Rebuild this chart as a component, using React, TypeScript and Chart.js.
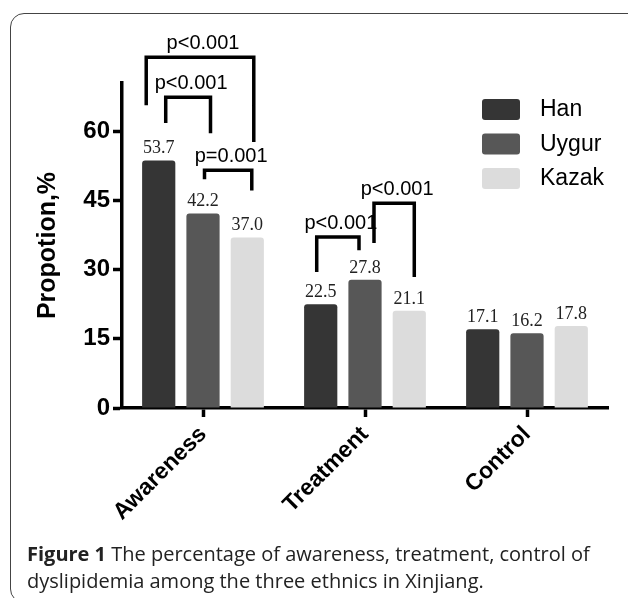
import React, { useEffect, useRef } from "react";
import { Chart, registerables } from "chart.js";

Chart.register(...registerables);

// ---- data ----
const categories = ["Awareness", "Treatment", "Control"];
const seriesNames = ["Han", "Uygur", "Kazak"];
const hanValues = [53.7, 22.5, 17.1];
const uygurValues = [42.2, 27.8, 16.2];
const kazakValues = [37.0, 21.1, 17.8];
const yTickValues = [0, 15, 30, 45, 60];
const yMax = 70.5;
const seriesColors = ["#353535", "#575757", "#dcdcdc"];

// significance brackets: category index, bar indices, label, heights in data units
const bracketCats = [0, 0, 0, 1, 1];
const bracketFrom = [0, 0, 1, 0, 1];
const bracketTo = [2, 1, 2, 1, 2];
const bracketLabels = ["p<0.001", "p<0.001", "p=0.001", "p<0.001", "p<0.001"];
const bracketTop = [76.1, 67.4, 51.6, 37.1, 44.4];
const bracketFromEnd = [65.7, 61.8, 49.6, 29.5, 35.8];
const bracketToEnd = [57.7, 59.6, 47.2, 34.2, 28.4];
const bracketDxFrom = [-12.5, 7, 1.5, -4, 9];
const bracketDxTo = [6.5, 7.5, 4.5, -6, 5];

const SANS = '"Liberation Sans", Arial, sans-serif';
const SERIF = '"Liberation Serif", "Times New Roman", serif';

const overlayPlugin = {
  id: "overlay",
  afterDatasetsDraw(chart: any) {
    const ctx = chart.ctx;
    const yScale = chart.scales.y;
    ctx.save();
    // value labels
    ctx.font = `18px ${SERIF}`;
    ctx.fillStyle = "#222";
    ctx.textAlign = "center";
    ctx.textBaseline = "alphabetic";
    chart.data.datasets.forEach((ds: any, di: number) => {
      const meta = chart.getDatasetMeta(di);
      meta.data.forEach((bar: any, i: number) => {
        ctx.fillText(Number(ds.data[i]).toFixed(1), bar.x, bar.y - 7);
      });
    });

    // brackets
    ctx.strokeStyle = "#000";
    ctx.lineWidth = 3.5;
    ctx.lineJoin = "miter";
    ctx.lineCap = "butt";
    ctx.font = `20px ${SANS}`;
    ctx.fillStyle = "#000";
    for (let k = 0; k < bracketLabels.length; k++) {
      const c = bracketCats[k];
      const x1 = chart.getDatasetMeta(bracketFrom[k]).data[c].x + bracketDxFrom[k];
      const x2 = chart.getDatasetMeta(bracketTo[k]).data[c].x + bracketDxTo[k];
      const yt = yScale.getPixelForValue(bracketTop[k]);
      const y1 = yScale.getPixelForValue(bracketFromEnd[k]);
      const y2 = yScale.getPixelForValue(bracketToEnd[k]);
      ctx.beginPath();
      ctx.moveTo(x1, y1);
      ctx.lineTo(x1, yt);
      ctx.lineTo(x2, yt);
      ctx.lineTo(x2, y2);
      ctx.stroke();
      ctx.fillText(bracketLabels[k], (x1 + x2) / 2 + 3, yt - 8);
    }

    // legend
    const ca = chart.chartArea;
    const bx = ca.right - 126;
    const by = ca.top + 16;
    ctx.font = `23px ${SANS}`;
    ctx.textAlign = "left";
    ctx.textBaseline = "middle";
    chart.data.datasets.forEach((ds: any, di: number) => {
      const y = by + di * 34.5;
      ctx.fillStyle = ds.backgroundColor;
      ctx.beginPath();
      (ctx as any).roundRect(bx, y, 38, 21, 3);
      ctx.fill();
      ctx.fillStyle = "#000";
      ctx.fillText(ds.label, bx + 58, y + 11);
    });
    ctx.restore();
  },
};

export default function App() {
  const canvasRef = useRef<HTMLCanvasElement | null>(null);

  useEffect(() => {
    if (!canvasRef.current) return;
    const seriesValues = [hanValues, uygurValues, kazakValues];
    const chart = new Chart(canvasRef.current, {
      type: "bar",
      data: {
        labels: categories,
        datasets: seriesNames.map((name, i) => ({
          label: name,
          data: seriesValues[i],
          backgroundColor: seriesColors[i],
          borderRadius: 3,
          categoryPercentage: 0.82,
          barPercentage: 0.75,
        })),
      },
      options: {
        responsive: false,
        animation: false,
        layout: { padding: { top: 83, right: 20, bottom: 40, left: 0 } },
        plugins: {
          legend: { display: false },
          tooltip: { enabled: false },
        },
        scales: {
          x: {
            offset: true,
            grid: {
              display: true,
              drawOnChartArea: false,
              offset: false,
              tickLength: 9,
              tickWidth: 3.5,
              tickColor: "#000",
              color: "#000",
            },
            border: { display: true, width: 3.5, color: "#000" },
            ticks: {
              font: { family: SANS, size: 23, weight: "bold" },
              color: "#000",
              maxRotation: 45,
              minRotation: 45,
              padding: 4,
              autoSkip: false,
            },
            afterFit: (s: any) => {
              s.height = 150;
            },
          },
          y: {
            min: 0,
            max: yMax,
            afterBuildTicks: (s: any) => {
              s.ticks = yTickValues.map((v) => ({ value: v }));
            },
            grid: {
              drawOnChartArea: false,
              tickLength: 9,
              tickWidth: 3.5,
              tickColor: "#000",
              color: "#000",
            },
            border: { display: true, width: 3.5, color: "#000" },
            ticks: {
              font: { family: SANS, size: 24, weight: "bold" },
              color: "#000",
              padding: 3,
            },
            title: {
              display: true,
              text: "Propotion,%",
              font: { family: SANS, size: 25, weight: "bold" },
              color: "#000",
              padding: { top: 33, bottom: 0 },
            },
            afterFit: (s: any) => {
              s.width = 122;
            },
          },
        },
      } as any,
      plugins: [overlayPlugin],
    });
    return () => chart.destroy();
  }, []);

  return (
    <div
      style={{
        position: "fixed",
        left: 0,
        top: 0,
        width: 628,
        height: 598,
        overflow: "hidden",
        background: "#fff",
      }}
    >
      <div
        style={{
          position: "absolute",
          left: 10,
          top: 13,
          width: 640,
          height: 588,
          border: "1.5px solid #444",
          borderRadius: 14,
        }}
      />
      <canvas
        ref={canvasRef}
        width={628}
        height={598}
        style={{ position: "absolute", left: 0, top: 0 }}
      />
      <div
        style={{
          position: "absolute",
          left: 27,
          top: 540,
          width: 610,
          fontFamily: '"Open Sans", sans-serif',
          fontSize: 20,
          lineHeight: "27px",
          color: "#222",
          whiteSpace: "nowrap",
        }}
      >
        <b>Figure 1</b> The percentage of awareness, treatment, control of
        <br />
        dyslipidemia among the three ethnics in Xinjiang.
      </div>
    </div>
  );
}
